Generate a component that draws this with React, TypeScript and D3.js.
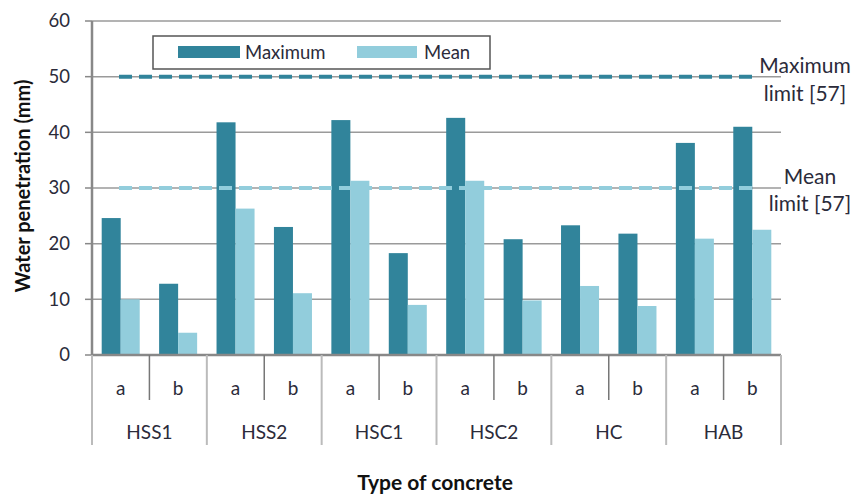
import React from "react";
import * as d3 from "d3";

const groups = ["HSS1", "HSS2", "HSC1", "HSC2", "HC", "HAB"];
const subs = ["a", "b"];
const maximumValues = [24.6, 12.8, 41.8, 23.0, 42.2, 18.3, 42.6, 20.8, 23.3, 21.8, 38.1, 41.0];
const meanValues = [10.0, 4.0, 26.3, 11.1, 31.3, 9.0, 31.3, 9.8, 12.4, 8.8, 20.9, 22.5];
const yTicks = [0, 10, 20, 30, 40, 50, 60];
const maxLimit = 50;
const meanLimit = 30;

const DARK = "#31849B";
const LIGHT = "#92CDDC";
const FONT = "Lato, 'Open Sans', sans-serif";
const TXT = "#2b2b3a";

export default function App() {
  const W = 856, H = 495;
  const left = 92, right = 781, top = 21, bottom = 355;
  const cats = groups.flatMap((g) => subs.map((s) => `${g}-${s}`));
  const x = d3.scaleBand<string>().domain(cats).range([left, right]).paddingInner(0).paddingOuter(0);
  const inner = d3.scaleBand<string>().domain(["max", "mean"]).range([0, x.bandwidth()]).paddingInner(0).paddingOuter(0.51);
  const y = d3.scaleLinear().domain([0, 60]).range([bottom, top]);
  const groupW = x.bandwidth() * 2;

  return (
    <svg width={W} height={H} style={{ position: "absolute", left: 0, top: 0, background: "#fff" }} fontFamily={FONT}>
      {/* gridlines */}
      {yTicks.filter((t) => t > 0).map((t) => (
        <line key={t} x1={left} x2={right} y1={y(t)} y2={y(t)} stroke="#9a9a9a" strokeWidth={1.5} />
      ))}
      {/* tick marks & labels */}
      {yTicks.map((t) => (
        <g key={"t" + t}>
          <line x1={left - 7} x2={left} y1={y(t)} y2={y(t)} stroke="#888" strokeWidth={1.5} />
          <text x={70} y={y(t)} dy="0.35em" textAnchor="end" fontSize={18.5} fill={TXT}>{t}</text>
        </g>
      ))}
      {/* bars */}
      {cats.map((c, i) => (
        <g key={c} transform={`translate(${x(c)},0)`}>
          <rect x={inner("max")} width={inner.bandwidth()} y={y(maximumValues[i])} height={bottom - y(maximumValues[i])} fill={DARK} />
          <rect x={inner("mean")} width={inner.bandwidth()} y={y(meanValues[i])} height={bottom - y(meanValues[i])} fill={LIGHT} />
        </g>
      ))}
      {/* limit lines (drawn over bars) */}
      <line x1={119} x2={752} y1={y(maxLimit)} y2={y(maxLimit)} stroke={DARK} strokeWidth={4} strokeDasharray="13 7" />
      <line x1={119} x2={752} y1={y(meanLimit)} y2={y(meanLimit)} stroke={LIGHT} strokeWidth={4} strokeDasharray="13 7" />
      {/* axes */}
      <line x1={left} x2={left} y1={top} y2={bottom} stroke="#888" strokeWidth={2.5} />
      <line x1={left} x2={right} y1={bottom} y2={bottom} stroke="#888" strokeWidth={2.5} />
      {/* category separators */}
      {cats.map((c, i) => (i % 2 === 1 ? (
        <line key={"s" + c} x1={x(c)} x2={x(c)} y1={bottom} y2={400} stroke="#777" strokeWidth={1.5} />
      ) : null))}
      {groups.map((g, gi) => (
        <line key={"g" + g} x1={left + gi * groupW} x2={left + gi * groupW} y1={bottom} y2={445} stroke="#bbb" strokeWidth={2} />
      ))}
      <line x1={right} x2={right} y1={bottom} y2={445} stroke="#bbb" strokeWidth={2} />
      {cats.map((c, i) => (
        <text key={"l" + c} x={(x(c) as number) + x.bandwidth() / 2} y={388} dy="0.35em" textAnchor="middle" fontSize={19} fill={TXT}>{subs[i % 2]}</text>
      ))}
      {groups.map((g, gi) => (
        <text key={"gl" + g} x={left + gi * groupW + groupW / 2} y={432} dy="0.35em" textAnchor="middle" fontSize={19} fill={TXT}>{g}</text>
      ))}
      {/* axis titles */}
      <text x={435} y={483} dy="0.35em" textAnchor="middle" fontSize={21} fontWeight="bold" fill="#111">Type of concrete</text>
      <text transform={`translate(23,186) rotate(-90)`} textAnchor="middle" dy="0.35em" fontSize={20} fontWeight="bold" fill="#111">Water penetration (mm)</text>
      {/* legend */}
      <rect x={153} y={36} width={337} height={33} fill="#fff" stroke="#555" strokeWidth={1.5} />
      <rect x={178} y={46} width={62} height={12} fill={DARK} />
      <text x={245} y={52.5} dy="0.35em" fontSize={18.5} fill={TXT}>Maximum</text>
      <rect x={357} y={46} width={60} height={12} fill={LIGHT} />
      <text x={424} y={52.5} dy="0.35em" fontSize={18.5} fill={TXT}>Mean</text>
      {/* limit labels */}
      <text x={805} y={66} dy="0.35em" textAnchor="middle" fontSize={21} fill={TXT}>Maximum</text>
      <text x={805} y={94} dy="0.35em" textAnchor="middle" fontSize={21} fill={TXT}>limit [57]</text>
      <text x={810} y={177} dy="0.35em" textAnchor="middle" fontSize={21} fill={TXT}>Mean</text>
      <text x={810} y={204} dy="0.35em" textAnchor="middle" fontSize={21} fill={TXT}>limit [57]</text>
    </svg>
  );
}
